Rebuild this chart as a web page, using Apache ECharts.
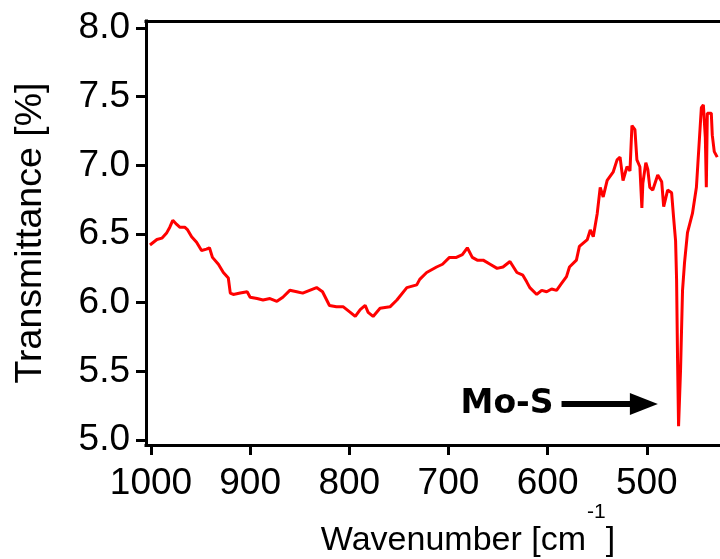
<!DOCTYPE html>
<html>
<head>
<meta charset="utf-8">
<script src="https://cdn.jsdelivr.net/npm/echarts@6/dist/echarts.min.js"></script>
<style>
  html, body { margin: 0; padding: 0; background: #ffffff; }
  #chart { width: 720px; height: 559px; }
</style>
</head>
<body>
<div id="chart"></div>
<script>
// FTIR spectrum: wavenumber (cm^-1) and transmittance (%)
const wavenumber = [
  1001, 994, 989, 984, 981, 978, 974, 971, 966, 963, 959, 954, 949, 944, 941, 938,
  932, 927, 922, 920, 917, 910, 903, 900, 893, 887, 880, 873, 867, 860, 853, 847,
  840, 833, 827, 820, 813, 806, 799, 794, 789, 784, 781, 776, 769, 759, 752, 742,
  732, 729, 722, 712, 706, 699, 692, 686, 681, 676, 671, 665, 658, 651, 645, 638,
  631, 625, 621, 618, 611, 606, 601, 596, 591, 586, 581, 578, 571, 568, 560, 557,
  554, 550, 547, 544, 540, 534, 530, 527, 524, 520, 517, 515, 512, 510, 507, 505,
  504, 501, 499, 497, 494, 489, 485, 483, 479, 475, 473, 471, 470, 469, 468, 466,
  464, 462, 459, 454, 450, 447, 445, 443, 441, 440, 439, 435, 434, 432, 429
];
const transmittance = [
  6.42, 6.46, 6.47, 6.51, 6.55, 6.60, 6.57, 6.55, 6.55, 6.53, 6.48, 6.44, 6.38, 6.39, 6.40, 6.33,
  6.28, 6.22, 6.18, 6.07, 6.06, 6.07, 6.08, 6.04, 6.03, 6.02, 6.03, 6.01, 6.04, 6.09, 6.08, 6.07,
  6.09, 6.11, 6.08, 5.98, 5.97, 5.97, 5.93, 5.90, 5.95, 5.98, 5.93, 5.90, 5.96, 5.97, 6.02, 6.11,
  6.13, 6.17, 6.22, 6.26, 6.28, 6.33, 6.33, 6.35, 6.40, 6.33, 6.31, 6.31, 6.28, 6.25, 6.26, 6.30,
  6.22, 6.20, 6.15, 6.11, 6.06, 6.09, 6.08, 6.10, 6.09, 6.14, 6.19, 6.26, 6.31, 6.41, 6.46, 6.53,
  6.48, 6.65, 6.84, 6.77, 6.89, 6.95, 7.04, 7.06, 6.89, 6.99, 6.96, 7.29, 7.26, 7.04, 6.99, 6.69,
  6.87, 7.02, 6.97, 6.84, 6.82, 6.93, 6.88, 6.70, 6.82, 6.80, 6.62, 6.45, 6.17, 5.58, 5.10, 5.51,
  6.09, 6.29, 6.51, 6.65, 6.84, 7.19, 7.42, 7.44, 7.20, 6.84, 7.38, 7.38, 7.22, 7.10, 7.06
];

// Axis tick positions
const xTicks = [1000, 900, 800, 700, 600, 500];
const yTicks = [5.0, 5.5, 6.0, 6.5, 7.0, 7.5, 8.0];

// Band annotation: label and arrow from start to end (wavenumber, transmittance)
const bandLabel = 'Mo-S';
const bandArrowStart = [586, 5.262];
const bandArrowEnd = [503, 5.262];

const spectrum = wavenumber.map((w, i) => [w, transmittance[i]]);

const FONT = '"Liberation Sans", Arial, sans-serif';
const chart = echarts.init(document.getElementById('chart'), null, { renderer: 'canvas' });

const axisLineStyle = { color: '#000000', width: 3, cap: 'square' };

chart.setOption({
  animation: false,
  backgroundColor: '#ffffff',
  grid: { left: 146, top: 21, width: 600, height: 424, containLabel: false, outerBoundsMode: 'none' },
  xAxis: [
    {
      type: 'value',
      inverse: true,
      min: 400,
      max: 1005,
      axisLine: { show: true, onZero: false, lineStyle: axisLineStyle },
      axisTick: { show: true, customValues: xTicks, length: 10, lineStyle: { color: '#000', width: 3 } },
      axisLabel: {
        show: true, customValues: xTicks, margin: 20,
        color: '#000', fontSize: 37, fontFamily: FONT,
        formatter: v => String(v)
      },
      splitLine: { show: false },
      // tall line box for the main text so the exponent sits well above it
      name: '{a|Wavenumber [cm}{s|-1}{a|]}',
      nameLocation: 'middle',
      nameGap: 57,
      nameMoveOverlap: false,
      nameTextStyle: {
        padding: [0, 0, 0, 44],
        rich: {
          a: { fontSize: 34, fontFamily: FONT, color: '#000', lineHeight: 78 },
          s: { fontSize: 21, fontFamily: FONT, color: '#000', lineHeight: 22, verticalAlign: 'top', padding: [0, 0, 0, 1] }
        }
      }
    },
    {
      type: 'value',
      position: 'top',
      inverse: true,
      min: 400,
      max: 1005,
      axisLine: { show: true, onZero: false, lineStyle: axisLineStyle },
      axisTick: { show: false },
      axisLabel: { show: false },
      splitLine: { show: false }
    }
  ],
  yAxis: {
    type: 'value',
    min: 4.964,
    max: 8.051,
    axisLine: { show: true, onZero: false, lineStyle: axisLineStyle },
    axisTick: { show: true, customValues: yTicks, length: 10, lineStyle: { color: '#000', width: 3 } },
    axisLabel: {
      show: true, customValues: yTicks, margin: 16,
      color: '#000', fontSize: 37, fontFamily: FONT,
      formatter: v => v.toFixed(1)
    },
    splitLine: { show: false },
    name: 'Transmittance [%]',
    nameLocation: 'middle',
    nameGap: 96,
    nameMoveOverlap: false,
    nameTextStyle: { fontSize: 37.5, fontFamily: FONT, color: '#000' }
  },
  series: [
    {
      type: 'line',
      xAxisIndex: 0,
      data: spectrum,
      showSymbol: false,
      symbol: 'none',
      lineStyle: { color: '#ff0000', width: 3 },
      emphasis: { disabled: true },
      markLine: {
        silent: true,
        symbol: ['none', 'triangle'],
        symbolSize: [22, 28],
        lineStyle: { color: '#000000', width: 6, type: 'solid' },
        label: {
          show: true,
          position: 'start',
          distance: 8,
          formatter: bandLabel,
          color: '#000',
          fontSize: 33,
          fontWeight: 'bold',
          fontFamily: '"DejaVu Sans", sans-serif'
        },
        emphasis: { disabled: true },
        data: [[{ coord: bandArrowStart }, { coord: bandArrowEnd }]]
      }
    }
  ]
});
</script>
</body>
</html>
